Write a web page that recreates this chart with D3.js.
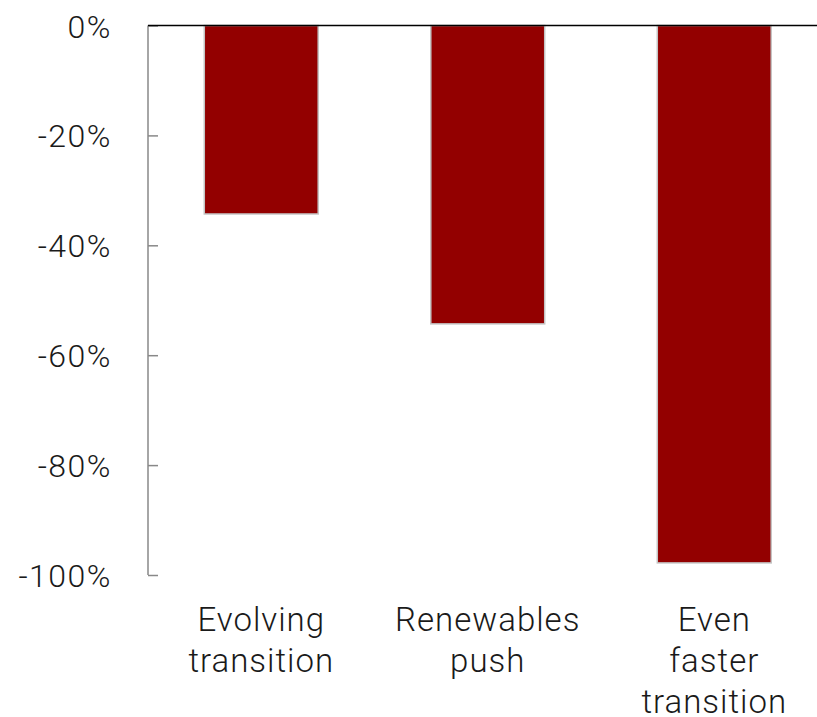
<!DOCTYPE html>
<html><head><meta charset="utf-8">
<script src="https://cdn.jsdelivr.net/npm/d3@7"></script>
<style>body{margin:0;background:#fff}text{font-family:Roboto,"Noto Sans",sans-serif;font-weight:300;fill:#1a1a1a}</style>
</head><body>
<script>
const categories = [["Evolving","transition"],["Renewables","push"],["Even","faster","transition"]];
const values = [-34.3, -54.3, -97.8];
const yTicks = [0, -20, -40, -60, -80, -100];

const W = 817, H = 717;
const svg = d3.select("body").append("svg").attr("width", W).attr("height", H);
const x = d3.scaleBand().domain(d3.range(categories.length)).range([148, 827.5]).paddingInner(0.497).paddingOuter(0.2485);
const y = d3.scaleLinear().domain([-100, 0]).range([575, 25.5]);

// y axis
const yAxis = svg.append("g").attr("transform", "translate(148,0)")
  .call(d3.axisRight(y).tickValues(yTicks).tickSize(10).tickFormat(d => d + "%"));
yAxis.select(".domain").attr("stroke", "#888").attr("stroke-width", 1.5).attr("d", `M0,${y(-100)}V${y(0)}`);
yAxis.selectAll(".tick line").attr("stroke", "#888").attr("stroke-width", 1.5);
yAxis.selectAll(".tick text").attr("x", -36).attr("text-anchor", "end").attr("dy", "0.36em")
  .style("font-size", "32px").style("letter-spacing", "1.5px").attr("fill", "#1a1a1a");

// bars
svg.append("g").selectAll("rect").data(values).join("rect")
  .attr("x", (d, i) => x(i)).attr("width", x.bandwidth())
  .attr("y", d => y(0)).attr("height", d => y(d) - y(0))
  .attr("fill", "#930000").attr("stroke", "#c4c4c4").attr("stroke-width", 1.5);

// zero line
svg.append("line").attr("x1", 148).attr("x2", W).attr("y1", y(0)).attr("y2", y(0))
  .attr("stroke", "#000").attr("stroke-width", 1.5);

// category labels
const lab = svg.append("g").selectAll("text").data(categories).join("text")
  .attr("text-anchor", "middle").style("font-size", "33px").style("letter-spacing", "1px")
  .attr("transform", (d, i) => `translate(${x(i) + x.bandwidth() / 2},631)`);
lab.selectAll("tspan").data(d => d).join("tspan")
  .attr("x", 0).attr("y", (d, j) => j * 41).text(d => d);
</script>
</body></html>
